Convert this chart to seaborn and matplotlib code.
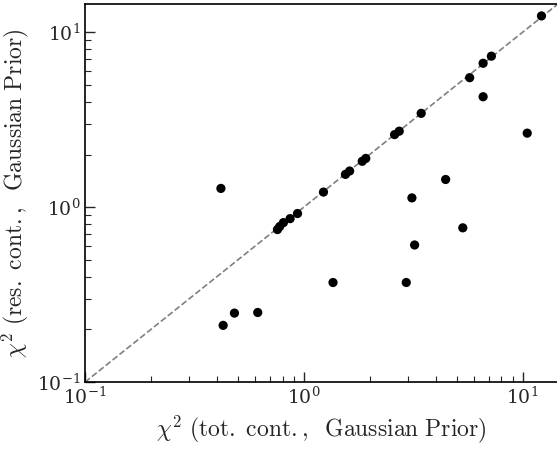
import matplotlib
matplotlib.use("Agg")
import matplotlib.pyplot as plt
import seaborn as sns
import pandas as pd

chi2_tot = [12.2, 7.2, 6.6, 5.73, 6.6, 10.5, 3.44, 2.73, 2.6, 1.92, 1.85, 1.62, 1.55,
            4.45, 0.418, 1.23, 3.12, 0.936, 0.866, 0.807, 0.776, 0.758, 5.33, 3.21,
            1.36, 2.94, 0.616, 0.482, 0.428]
chi2_res = [12.4, 7.3, 6.65, 5.5, 4.28, 2.65, 3.44, 2.72, 2.6, 1.9, 1.83, 1.61, 1.54,
            1.44, 1.28, 1.22, 1.13, 0.92, 0.86, 0.816, 0.775, 0.745, 0.762, 0.608,
            0.371, 0.371, 0.25, 0.248, 0.211]
lims = [0.1, 14.5]

df = pd.DataFrame({"tot": chi2_tot, "res": chi2_res})

sns.set_style("ticks")
plt.rcParams["font.family"] = ["serif"]
plt.rcParams["mathtext.fontset"] = "cm"

fig = plt.figure(figsize=(5.57, 4.49), dpi=100)
ax = fig.add_axes([0.1526, 0.149, 0.849, 0.842])

ax.plot(lims, lims, ls="--", color="gray", lw=1.2, zorder=1)
sns.scatterplot(data=df, x="tot", y="res", ax=ax, color="black", s=44,
                edgecolor="none", zorder=2)

ax.set_xscale("log")
ax.set_yscale("log")
ax.set_xlim(lims)
ax.set_ylim(lims)

ax.set_xlabel(r"$\chi^2\ \mathrm{(tot.\ cont.,\;\ Gaussian\ Prior)}$", fontsize=17, labelpad=4)
ax.set_ylabel(r"$\chi^2\ \mathrm{(res.\ cont.,\;\ Gaussian\ Prior)}$", fontsize=17, labelpad=4)

ax.tick_params(which="both", direction="in", top=False, right=False, labelsize=13.5)
ax.tick_params(which="major", length=7, width=1)
ax.tick_params(which="minor", length=4, width=0.8)
for s in ax.spines.values():
    s.set_linewidth(1.2)
    s.set_color("black")

fig.savefig("out.png", dpi=100)
